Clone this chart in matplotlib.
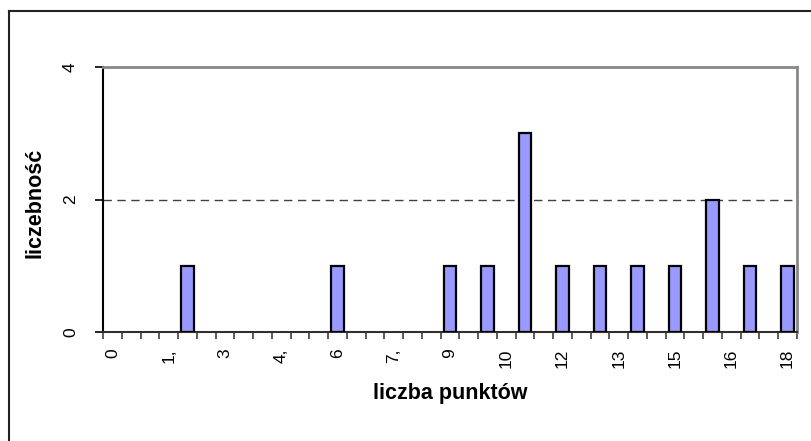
import matplotlib
matplotlib.use("Agg")
import matplotlib.pyplot as plt
from matplotlib.lines import Line2D

plt.rcParams['font.family'] = ['Liberation Sans', 'DejaVu Sans']

categories = [0, 0.5, 1, 1.5, 2, 2.5, 3, 3.5, 4, 4.5, 5, 5.5, 6, 6.5, 7, 7.5,
              8, 8.5, 9, 9.5, 10, 10.5, 11, 11.5, 12, 12.5, 13, 13.5, 14, 14.5,
              15, 15.5, 16, 16.5, 17, 17.5, 18]
counts = [0, 0, 0, 0, 1, 0, 0, 0, 0, 0, 0, 0, 1, 0, 0, 0,
          0, 0, 1, 0, 1, 0, 3, 0, 1, 0, 1, 0, 1, 0,
          1, 0, 2, 0, 1, 0, 1]
tick_labels = ["0", "1,", "3", "4,", "6", "7,", "9", "10", "12", "13", "15", "16", "18"]
label_step = 3
y_ticks = [0, 2, 4]

W, H = 811, 441
fig = plt.figure(figsize=(W / 100, H / 100), dpi=100)
ax = fig.add_axes([103 / W, 1 - 332 / H, (797 - 103) / W, (332 - 67) / H])

pos = list(range(len(categories)))
bar_pos = [p for p, c in zip(pos, counts) if c > 0]
bar_h = [c for c in counts if c > 0]
ax.bar(bar_pos, bar_h, width=0.68, color='#9999FF', edgecolor='black', linewidth=1.6, zorder=3)

ax.set_xlim(-0.5, len(categories) - 0.5)
ax.set_ylim(0, 4)

# x ticks: marks at category boundaries, labels every 3rd category
ax.set_xticks([p - 0.5 for p in pos] + [len(categories) - 0.5], minor=True)
ax.set_xticks(pos[::label_step])
ax.set_xticklabels(tick_labels, rotation=90)
ax.tick_params(axis='x', which='major', length=0, pad=12, labelsize=12.5)
ax.tick_params(axis='x', which='minor', length=5, width=1.2, color='#404040', direction='out')

ax.set_yticks(y_ticks)
ax.set_yticklabels([str(v) for v in y_ticks], rotation=90, va='center')
ax.tick_params(axis='y', length=6, width=1.2, color='black', direction='out', pad=12, labelsize=12.5)

for v in y_ticks[1:-1]:
    ax.axhline(v, color='#404040', linewidth=1.0, dashes=(6, 4), zorder=1)

ax.spines['left'].set_color('black')
ax.spines['left'].set_linewidth(1.5)
ax.spines['bottom'].set_color('#303030')
ax.spines['bottom'].set_linewidth(1.5)
ax.spines['top'].set_color('#888888')
ax.spines['top'].set_linewidth(2)
ax.spines['right'].set_color('#888888')
ax.spines['right'].set_linewidth(2)

ax.set_xlabel('liczba punktów', fontsize=15.5, fontweight='bold')
ax.set_ylabel('liczebność', fontsize=15.5, fontweight='bold')
ax.xaxis.set_label_coords((450 - 103) / (797 - 103), -(383 - 332) / (332 - 67))
ax.yaxis.set_label_coords(-(103 - 45) / (797 - 103), (332 - 203) / (332 - 67))

# outer chart frame
fig.add_artist(Line2D([8.5 / W, 8.5 / W], [1 - 11 / H, 0], color='#222222', linewidth=1.5, transform=fig.transFigure))
fig.add_artist(Line2D([8.5 / W, 1], [1 - 11 / H, 1 - 11 / H], color='#222222', linewidth=1.5, transform=fig.transFigure))

fig.savefig('out.png', dpi=100)
